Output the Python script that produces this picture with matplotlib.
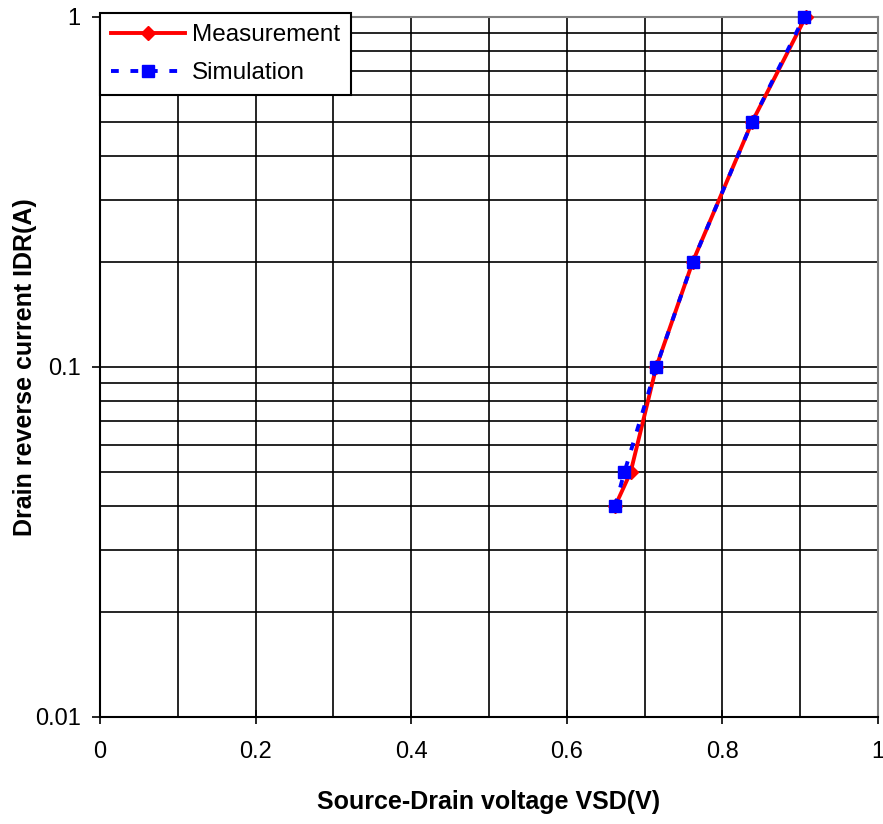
import matplotlib
matplotlib.use("Agg")
import matplotlib.pyplot as plt
from matplotlib.ticker import FixedLocator, NullFormatter

plt.rcParams['font.family'] = ['Liberation Sans', 'DejaVu Sans']

# data
current = [0.04, 0.05, 0.1, 0.2, 0.5, 1.0]
vsd_meas = [0.662, 0.682, 0.715, 0.762, 0.838, 0.907]
vsd_sim = [0.662, 0.674, 0.715, 0.762, 0.838, 0.905]

x_ticks = [0, 0.2, 0.4, 0.6, 0.8, 1.0]
x_tick_labels = ["0", "0.2", "0.4", "0.6", "0.8", "1"]
y_ticks = [0.01, 0.1, 1]
y_tick_labels = ["0.01", "0.1", "1"]

fig = plt.figure(figsize=(8.83, 8.24), dpi=100)
ax = fig.add_axes([0.1133, 0.1299, 0.881, 0.8495])

ax.set_yscale('log')
ax.set_xlim(0, 1)
ax.set_ylim(0.01, 1)

# grid
for xv in [i / 10 for i in range(1, 10)]:
    ax.axvline(xv, color='black', lw=1.2, zorder=1)
for dec in [0.01, 0.1]:
    for m in range(1, 10):
        yv = dec * m
        if yv > 0.01:
            ax.axhline(yv, color='black', lw=1.2, zorder=1)

ax.plot(vsd_meas, current, color='#ff0000', lw=2.8, marker='D', markersize=7,
        label='Measurement', zorder=3, clip_on=False)
ax.plot(vsd_sim, current, color='#0000ff', lw=2.8, ls=(0, (2, 3)), marker='s',
        markersize=8, label='Simulation', zorder=4, clip_on=False)

ax.xaxis.set_major_locator(FixedLocator(x_ticks))
ax.set_xticklabels(x_tick_labels)
ax.yaxis.set_major_locator(FixedLocator(y_ticks))
ax.set_yticklabels(y_tick_labels)
ax.yaxis.set_minor_formatter(NullFormatter())
ax.tick_params(axis='y', which='minor', length=0)
ax.tick_params(axis='x', which='major', direction='inout', length=10, width=1.2,
               labelsize=17, pad=12)
ax.tick_params(axis='y', which='major', direction='out', length=6, width=1.2,
               labelsize=17, pad=8)

for side in ['top', 'right']:
    ax.spines[side].set_color('#808080')
    ax.spines[side].set_linewidth(1.5)
for side in ['left', 'bottom']:
    ax.spines[side].set_color('black')
    ax.spines[side].set_linewidth(1.5)

ax.set_xlabel('Source-Drain voltage VSD(V)', fontsize=18, fontweight='bold', labelpad=20)
ax.set_ylabel('Drain reverse current IDR(A)', fontsize=18, fontweight='bold')
ax.yaxis.set_label_coords(-0.081, 0.5)

leg = ax.legend(loc='upper left', bbox_to_anchor=(0.0, 1.005), fontsize=17.5,
                frameon=True, fancybox=False, framealpha=1, edgecolor='black',
                handlelength=3.05, borderpad=0.45, labelspacing=0.65, handletextpad=0.3,
                borderaxespad=0)
leg.get_frame().set_linewidth(1.5)

fig.savefig('out.png', dpi=100)
